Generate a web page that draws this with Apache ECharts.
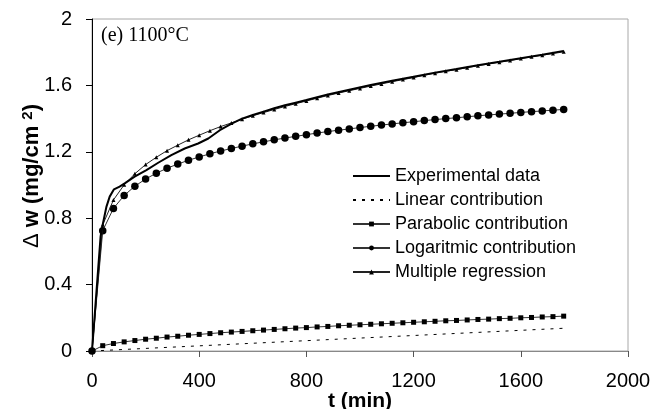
<!DOCTYPE html>
<html>
<head>
<meta charset="utf-8">
<script src="https://cdn.jsdelivr.net/npm/echarts@6/dist/echarts.min.js"></script>
<style>html,body{margin:0;padding:0;background:#fff}#c{width:666px;height:409px}</style>
</head>
<body>
<div id="c"></div>
<script>
// Model time grid (min), every 40 min
const modelTimes = [0,40,80,120,160,200,240,280,320,360,400,440,480,520,560,600,640,680,720,760,800,840,880,920,960,1000,1040,1080,1120,1160,1200,1240,1280,1320,1360,1400,1440,1480,1520,1560,1600,1640,1680,1720,1760];
const parabolic = [0,0.032,0.045,0.055,0.063,0.071,0.077,0.084,0.089,0.095,0.100,0.105,0.110,0.114,0.118,0.122,0.126,0.130,0.134,0.138,0.141,0.145,0.148,0.152,0.155,0.158,0.161,0.164,0.167,0.170,0.173,0.176,0.179,0.182,0.184,0.187,0.190,0.192,0.195,0.197,0.200,0.202,0.205,0.207,0.210];
const logaritmic = [0,0.725,0.859,0.937,0.993,1.036,1.071,1.101,1.126,1.149,1.169,1.188,1.205,1.220,1.234,1.248,1.260,1.272,1.283,1.293,1.303,1.313,1.322,1.330,1.338,1.346,1.354,1.361,1.368,1.375,1.381,1.388,1.394,1.400,1.405,1.411,1.417,1.422,1.427,1.432,1.437,1.442,1.446,1.451,1.455];
const regression = [0,0.760,0.910,1.001,1.068,1.123,1.167,1.207,1.240,1.272,1.300,1.327,1.352,1.374,1.396,1.417,1.436,1.455,1.473,1.490,1.506,1.523,1.539,1.554,1.568,1.582,1.596,1.609,1.622,1.635,1.647,1.661,1.673,1.685,1.695,1.707,1.719,1.729,1.740,1.750,1.762,1.772,1.782,1.792,1.802];
const linearTimes = [0,1760];
const linear = [0,0.137];
const expTimes = [0,32,41,54,66,82,103,122,159,203,247,296,346,396,434,477,521,560,600,640,680,720,760,800,880,960,1040,1120,1200,1280,1360,1440,1520,1600,1680,1760];
const experimental = [0,0.69,0.77,0.87,0.93,0.974,0.99,1.01,1.05,1.09,1.134,1.18,1.22,1.25,1.28,1.33,1.37,1.40,1.422,1.442,1.462,1.480,1.496,1.512,1.545,1.574,1.602,1.628,1.652,1.677,1.699,1.722,1.742,1.764,1.784,1.808];
const xTicks = {min:0, max:2000, interval:400};
const yTicks = {min:0, max:2, interval:0.4};
const names = ['Experimental data','Linear contribution','Parabolic contribution','Logaritmic contribution','Multiple regression'];

const pairs = (ts, vs) => ts.map((t,i)=>[t, vs[i]]);
const chart = echarts.init(document.getElementById('c'), null, {renderer:'canvas'});
const FONT = '"Liberation Sans", Arial, sans-serif';
const hide = {color:'rgba(0,0,0,0)',borderColor:'rgba(0,0,0,0)',borderWidth:0};
chart.setOption({
  animation:false,
  backgroundColor:'#fff',
  grid:{left:92,right:38,top:19,bottom:58,show:true,borderColor:'#a8a8a8',borderWidth:1,
    containLabel:false,outerBoundsMode:'none'},
  xAxis:{type:'value',min:xTicks.min,max:xTicks.max,interval:xTicks.interval,
    name:'t (min)',nameLocation:'middle',nameGap:40,nameMoveOverlap:false,
    nameTextStyle:{fontFamily:FONT,fontSize:21,fontWeight:'bold',color:'#000'},
    axisLine:{lineStyle:{color:'#888',width:1}},
    axisTick:{show:true,length:6,lineStyle:{color:'#555'}},
    axisLabel:{fontFamily:FONT,fontSize:20,color:'#000',margin:20,formatter:v=>String(v)},
    splitLine:{show:false}},
  yAxis:{type:'value',min:yTicks.min,max:yTicks.max,interval:yTicks.interval,
    name:'{d|Δ }{b|w (mg/cm }{s|2}{b|)}',nameLocation:'middle',nameGap:49,nameMoveOverlap:false,
    nameTextStyle:{fontFamily:FONT,color:'#000',padding:[0,0,0,18],rich:{
      d:{fontFamily:FONT,fontSize:22,color:'#000'},
      b:{fontFamily:FONT,fontSize:22,fontWeight:'bold',color:'#000'},
      s:{fontFamily:FONT,fontSize:15,fontWeight:'bold',color:'#000',verticalAlign:'top',padding:[0,0,8,0]}}},
    axisLine:{show:true,lineStyle:{color:'#000',width:1}},
    axisTick:{show:true,length:6,lineStyle:{color:'#000'}},
    axisLabel:{fontFamily:FONT,fontSize:20,color:'#000',margin:20},
    splitLine:{show:false}},
  legend:{orient:'vertical',left:352,top:166,padding:0,itemWidth:37,itemHeight:6,itemGap:4,
    data:[
      {name:names[0],itemStyle:hide},
      {name:names[1],itemStyle:hide},
      {name:names[2]},
      {name:names[3]},
      {name:names[4]}
    ],
    textStyle:{fontFamily:FONT,fontSize:18,color:'#000',lineHeight:20}},
  graphic:[{type:'text',left:101,top:26,style:{text:'(e) 1100°C',font:'20px "Liberation Serif", "Times New Roman", serif',fill:'#000'}}],
  series:[
    {name:names[1],type:'line',data:pairs(linearTimes,linear),showSymbol:false,symbol:'none',
      lineStyle:{color:'#000',width:1,type:[3,6]},itemStyle:{color:'#000'},z:2},
    {name:names[2],type:'line',data:pairs(modelTimes,parabolic),symbol:'rect',symbolSize:5,
      lineStyle:{color:'#333',width:1},itemStyle:{color:'#000'},z:3},
    {name:names[3],type:'line',data:pairs(modelTimes,logaritmic),symbol:'circle',symbolSize:7.5,
      lineStyle:{color:'#333',width:1},itemStyle:{color:'#000'},z:3},
    {name:names[4],type:'line',data:pairs(modelTimes,regression),symbol:'triangle',symbolSize:4,
      lineStyle:{color:'#222',width:1},itemStyle:{color:'#000'},z:4},
    {name:names[0],type:'line',data:pairs(expTimes,experimental),showSymbol:false,symbol:'none',
      lineStyle:{color:'#000',width:2},itemStyle:{color:'#000'},z:5}
  ]
});
</script>
</body>
</html>
